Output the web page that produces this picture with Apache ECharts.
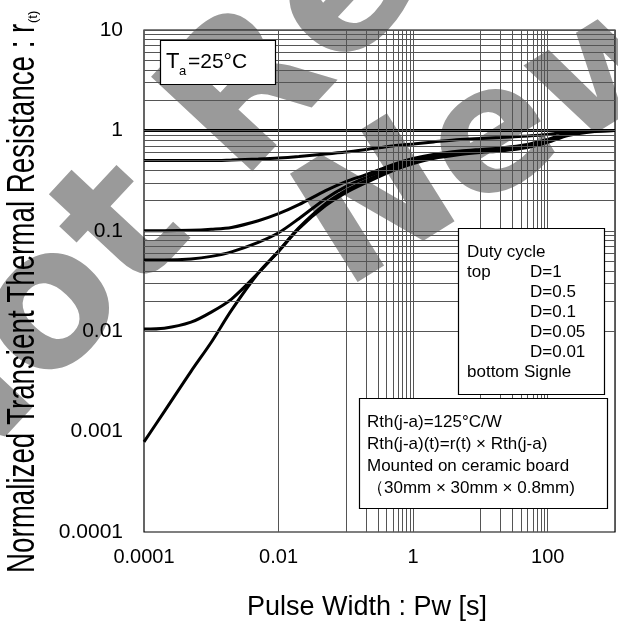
<!DOCTYPE html>
<html><head><meta charset="utf-8">
<script src="https://cdn.jsdelivr.net/npm/echarts@6/dist/echarts.min.js"></script>
<style>html,body{margin:0;padding:0;background:#fff}#c{width:618px;height:628px}</style>
</head><body><div id="c"></div>
<script>
// ---- data ----
const pulseWidth = [1e-4, 2e-4, 5e-4, 1e-3, 2e-3, 5e-3, 1e-2, 2e-2, 5e-2, 0.1, 0.2, 0.5, 1, 2, 5, 10, 20, 50, 100, 200, 500, 1000];
const rD100 = [1, 1, 1, 1, 1, 1, 1, 1, 1, 1, 1, 1, 1, 1, 1, 1, 1, 1, 1, 1, 1, 1];
const rD50 = [0.50, 0.50, 0.50, 0.50, 0.507, 0.519, 0.531, 0.55, 0.582, 0.61, 0.646, 0.70, 0.733, 0.768, 0.813, 0.832, 0.851, 0.881, 0.912, 0.966, 0.99, 1.0];
const rD10 = [0.10, 0.10, 0.101, 0.1035, 0.108, 0.126, 0.148, 0.182, 0.251, 0.309, 0.363, 0.457, 0.525, 0.575, 0.622, 0.646, 0.668, 0.724, 0.813, 0.933, 0.99, 1.0];
const rD5 = [0.0513, 0.0513, 0.0525, 0.0556, 0.0617, 0.0767, 0.0955, 0.132, 0.209, 0.275, 0.339, 0.437, 0.501, 0.557, 0.61, 0.631, 0.653, 0.708, 0.794, 0.923, 0.99, 1.0];
const rD1 = [0.0105, 0.0107, 0.0123, 0.0155, 0.0209, 0.038, 0.0631, 0.107, 0.186, 0.251, 0.316, 0.417, 0.486, 0.546, 0.596, 0.617, 0.638, 0.692, 0.776, 0.912, 0.99, 1.0];
const rSingle = [0.00079, 0.00158, 0.00398, 0.00776, 0.0162, 0.038, 0.0624, 0.105, 0.178, 0.24, 0.302, 0.398, 0.468, 0.525, 0.575, 0.603, 0.624, 0.676, 0.759, 0.891, 0.977, 1.0];
const seriesNames = ['D=1', 'D=0.5', 'D=0.1', 'D=0.05', 'D=0.01', 'Single'];

const xTickLabels = {'-4': '0.0001', '-2': '0.01', '0': '1', '2': '100'};
const yTickLabels = {'-4': '0.0001', '-3': '0.001', '-2': '0.01', '-1': '0.1', '0': '1', '1': '10'};
const xDecades = [1e-4, 1e-3, 1e-2, 1e-1, 1, 10, 100, 1000];
const xMinorDecades = [1e-3, 1e-1, 10];
const yDecades = [1e-4, 1e-3, 1e-2, 1e-1, 1, 10];
const yMinorDecades = [1e-4, 1e-3, 1e-2, 1e-1, 1];
const minorSteps = [2, 3, 4, 5, 6, 7, 8, 9];

const xTitle = 'Pulse Width : Pw [s]';
const yTitle = 'Normalized Transient Thermal Resistance : r';
const yTitleSub = '(t)';
const tempLabel = ['T', 'a', '=25°C'];
const dutyTitle = 'Duty cycle';
const dutyLeft = ['top', 'bottom'];
const dutyRight = ['D=1', 'D=0.5', 'D=0.1', 'D=0.05', 'D=0.01', 'Signle'];
const noteLines = ['Rth(j-a)=125°C/W', 'Rth(j-a)(t)=r(t) × Rth(j-a)', 'Mounted on ceramic board', '（30mm × 30mm × 0.8mm)'];
const watermark = ['Not Recommended for', 'New Designs'];

// ---- chart ----
const FONT = "'Liberation Sans', Arial, sans-serif";
const vLines = [];
xDecades.forEach(v => vLines.push({xAxis: v}));
xMinorDecades.forEach(d => minorSteps.forEach(m => vLines.push({xAxis: d * m})));
const hLines = [];
yDecades.forEach(v => hLines.push({yAxis: v}));
yMinorDecades.forEach(d => minorSteps.forEach(m => hLines.push({yAxis: d * m})));

const curves = [rD100, rD50, rD10, rD5, rD1, rSingle];
const series = [{
  name: 'grid', type: 'line', data: [[1e-4, 1]], symbol: 'none', lineStyle: {opacity: 0},
  z: 1, silent: true, animation: false,
  markLine: {
    silent: true, symbol: ['none', 'none'], label: {show: false}, animation: false,
    lineStyle: {color: '#555', width: 1, type: 'solid'},
    emphasis: {disabled: true},
    data: vLines.concat(hLines)
  }
}];
curves.forEach((arr, i) => {
  series.push({
    name: seriesNames[i], type: 'line', z: 3, symbol: 'none', smooth: 0.3, animation: false,
    lineStyle: {color: '#000', width: 3},
    data: pulseWidth.map((x, j) => [x, arr[j]])
  });
});

const G = [];
G.push({type: 'text', x: -100, y: 477, rotation: 47 * Math.PI / 180, z: -10, silent: true,
  style: {text: watermark[0], font: 'bold 190px "DejaVu Sans", sans-serif', fill: '#9a9a9a', align: 'left', verticalAlign: 'middle'}});
G.push({type: 'text', x: 320, y: 252, rotation: 32 * Math.PI / 180, z: -10, silent: true,
  style: {text: watermark[1], font: 'bold 175px "DejaVu Sans", sans-serif', fill: '#9a9a9a', align: 'left', verticalAlign: 'middle'}});

// axis titles
G.push({type: 'text', x: 24, y: 573, rotation: Math.PI / 2, scaleX: 0.73, z: 5,
  style: {text: yTitle, font: '38px ' + FONT, fill: '#000', align: 'left', verticalAlign: 'middle'}});
G.push({type: 'text', x: 33, y: 23, rotation: Math.PI / 2, z: 5,
  style: {text: yTitleSub, font: '13px ' + FONT, fill: '#000', align: 'left', verticalAlign: 'middle'}});
G.push({type: 'text', x: 367, y: 608, z: 5,
  style: {text: xTitle, font: '27px ' + FONT, fill: '#000', align: 'center', verticalAlign: 'middle'}});

// Ta box
G.push({type: 'rect', z: 20, shape: {x: 160.5, y: 40.5, width: 115, height: 44},
  style: {fill: '#fff', stroke: '#000', lineWidth: 1.2}});
G.push({type: 'text', z: 21, x: 166, y: 62, style: {text: tempLabel[0], font: '22px ' + FONT, fill: '#000', verticalAlign: 'middle'}});
G.push({type: 'text', z: 21, x: 179, y: 71, style: {text: tempLabel[1], font: '13px ' + FONT, fill: '#000', verticalAlign: 'middle'}});
G.push({type: 'text', z: 21, x: 188, y: 62, style: {text: tempLabel[2], font: '21px ' + FONT, fill: '#000', verticalAlign: 'middle'}});

// Duty box
G.push({type: 'rect', z: 20, shape: {x: 458.5, y: 228.5, width: 146, height: 166},
  style: {fill: '#fff', stroke: '#000', lineWidth: 1.2}});
const f17 = '17px ' + FONT;
G.push({type: 'text', z: 21, x: 467, y: 252, style: {text: dutyTitle, font: f17, fill: '#000', verticalAlign: 'middle'}});
G.push({type: 'text', z: 21, x: 467, y: 272, style: {text: dutyLeft[0], font: f17, fill: '#000', verticalAlign: 'middle'}});
G.push({type: 'text', z: 21, x: 467, y: 372, style: {text: dutyLeft[1], font: f17, fill: '#000', verticalAlign: 'middle'}});
dutyRight.forEach((t, i) => {
  G.push({type: 'text', z: 21, x: i === 5 ? 524 : 530, y: 272 + 20 * i, style: {text: t, font: f17, fill: '#000', verticalAlign: 'middle'}});
});

// Note box
G.push({type: 'rect', z: 20, shape: {x: 359.5, y: 398.5, width: 248, height: 110},
  style: {fill: '#fff', stroke: '#000', lineWidth: 1.2}});
noteLines.forEach((t, i) => {
  G.push({type: 'text', z: 21, x: 367, y: 422 + 22 * i, style: {text: t, font: f17, fill: '#000', verticalAlign: 'middle'}});
});

const chart = echarts.init(document.getElementById('c'), null, {renderer: 'canvas'});
chart.setOption({
  animation: false,
  backgroundColor: '#fff',
  grid: {left: 144, right: 1, top: 30, bottom: 96, show: true, borderColor: '#000', borderWidth: 1.2, backgroundColor: 'transparent'},
  xAxis: {
    type: 'log', logBase: 10, min: 1e-4, max: 1000,
    axisLine: {show: false}, axisTick: {show: false}, splitLine: {show: false},
    axisLabel: {
      color: '#000', fontSize: 20, fontFamily: FONT, margin: 15, showMinLabel: true, showMaxLabel: true,
      formatter: v => xTickLabels[String(Math.round(Math.log10(v)))] || ''
    }
  },
  yAxis: {
    type: 'log', logBase: 10, min: 1e-4, max: 10,
    axisLine: {show: false}, axisTick: {show: false}, splitLine: {show: false},
    axisLabel: {
      color: '#000', fontSize: 21, fontFamily: FONT, margin: 21, showMinLabel: true, showMaxLabel: true,
      formatter: v => yTickLabels[String(Math.round(Math.log10(v)))] || ''
    }
  },
  series: series,
  graphic: G
});
</script>
</body></html>
